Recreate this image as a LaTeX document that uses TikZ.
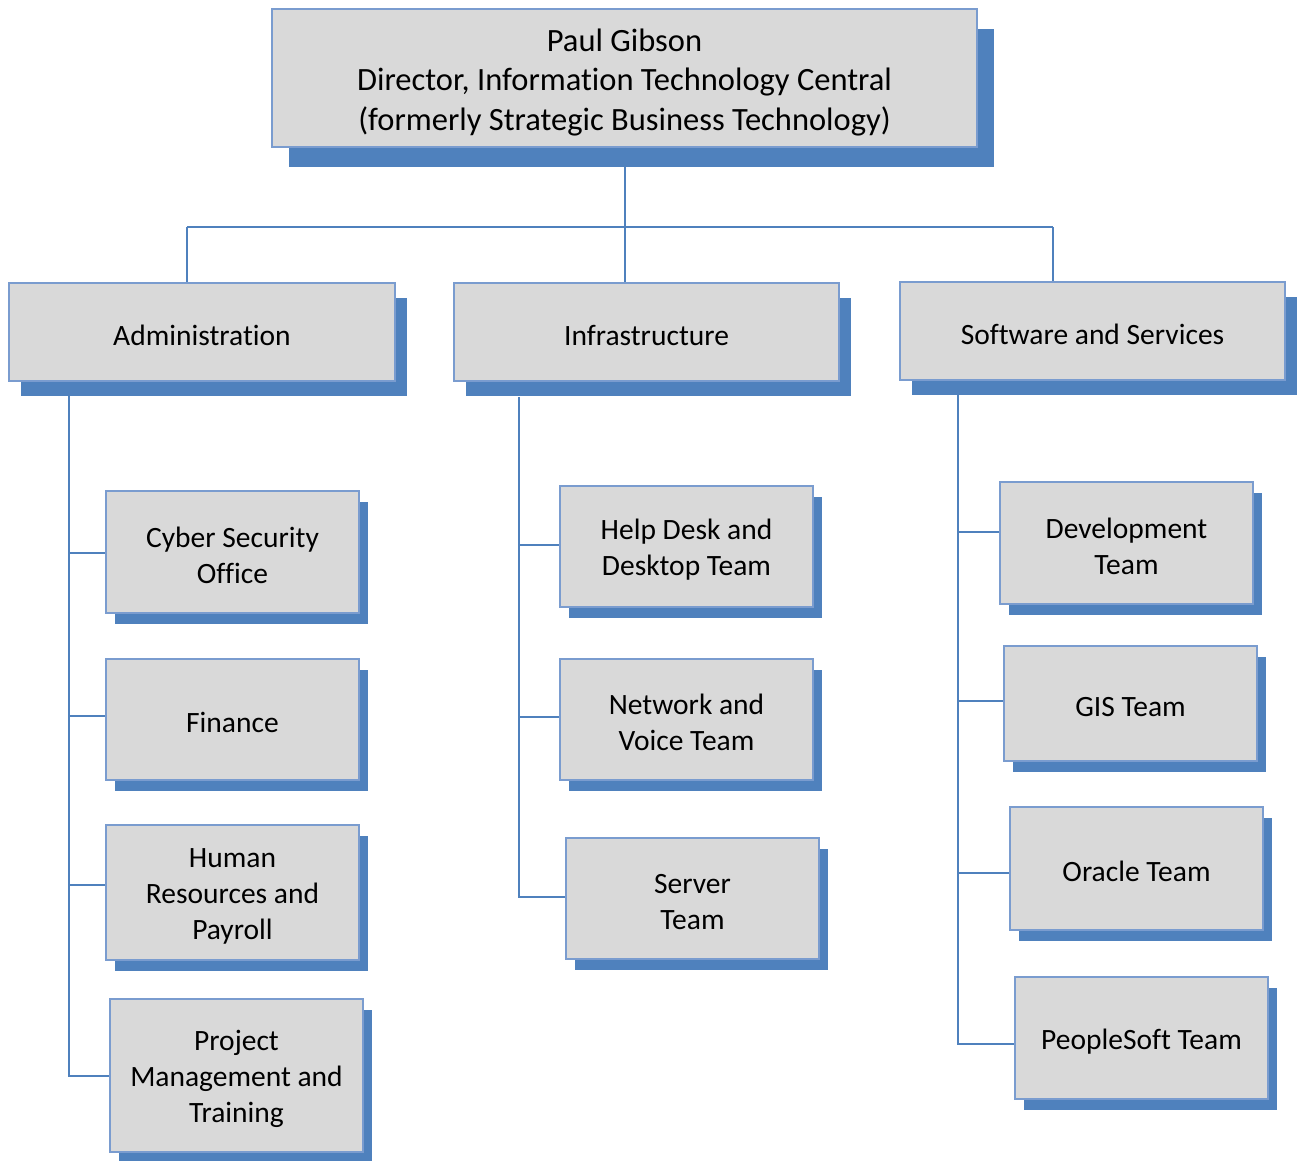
\documentclass[tikz,border=0pt]{standalone}
\usepackage{fontspec}
\setmainfont{Carlito}[Ligatures=NoCommon]
\usetikzlibrary{shadows}
\definecolor{shadowc}{HTML}{4F81BD}
\definecolor{boxfill}{HTML}{D9D9D9}
\definecolor{boxline}{HTML}{7A9CCF}
\definecolor{linec}{HTML}{4F81BD}
\newcommand\mystrut{\rule{0pt}{27pt}}
\newcommand\mytopstrut{\rule{0pt}{31pt}}
\tikzset{
  box/.style={draw=boxline, line width=1.5pt, fill=boxfill, inner sep=0pt, align=center,
    font=\fontsize{29.5}{36}\selectfont},
  topbox/.style={box, font=\fontsize{32.5}{39.5}\selectfont},
  bigshadow/.style={general shadow={fill=shadowc, shadow xshift=17pt, shadow yshift=-20pt}},
  midshadow/.style={general shadow={fill=shadowc, shadow xshift=12pt, shadow yshift=-15pt}},
  smallshadow/.style={general shadow={fill=shadowc, shadow xshift=9pt, shadow yshift=-11pt}},
  conn/.style={draw=linec, line width=2pt},
}
\begin{document}
\begin{tikzpicture}[x=1pt,y=-1pt]
\useasboundingbox (0,0) rectangle (1298,1160);
% top
\node[topbox, bigshadow, minimum width=705pt, minimum height=138pt] (top) at (624.5,78)
  {\mytopstrut Paul Gibson\\Director, Information Technology Central\\(formerly Strategic Business Technology)};
% level 2
\node[box, midshadow, minimum width=386pt, minimum height=98pt] (admin) at (202,332) {\mystrut Administration};
\node[box, midshadow, minimum width=385pt, minimum height=98pt] (infra) at (646.5,332) {\mystrut Infrastructure};
\node[box, midshadow, minimum width=385pt, minimum height=98pt] (soft) at (1092.5,331) {\mystrut Software and Services};
% admin children
\node[box, smallshadow, minimum width=253pt, minimum height=122pt] (cyber) at (232.5,552) {\mystrut Cyber Security\\Office};
\node[box, smallshadow, minimum width=253pt, minimum height=121pt] (fin) at (232.5,719.5) {\mystrut Finance};
\node[box, smallshadow, minimum width=253pt, minimum height=135pt] (hr) at (232.5,892.5) {\mystrut Human\\Resources and\\Payroll};
\node[box, smallshadow, minimum width=253pt, minimum height=153pt] (proj) at (236.5,1075.5) {\mystrut Project\\Management and\\Training};
% infra children
\node[box, smallshadow, minimum width=253pt, minimum height=121pt] (help) at (686.5,546.5) {\mystrut Help Desk and\\Desktop Team};
\node[box, smallshadow, minimum width=253pt, minimum height=121pt] (net) at (686.5,719.5) {\mystrut Network and\\Voice Team};
\node[box, smallshadow, minimum width=253pt, minimum height=121pt] (serv) at (692.5,898.5) {\mystrut Server\\Team};
% software children
\node[box, smallshadow, minimum width=253pt, minimum height=122pt] (dev) at (1126.5,543) {\mystrut Development\\Team};
\node[box, smallshadow, minimum width=253pt, minimum height=115pt] (gis) at (1130.5,703.5) {\mystrut GIS Team};
\node[box, smallshadow, minimum width=253pt, minimum height=123pt] (ora) at (1136.5,868.5) {\mystrut Oracle Team};
\node[box, smallshadow, minimum width=253pt, minimum height=122pt] (ps) at (1141.5,1038) {\mystrut PeopleSoft Team};
% connectors top
\coordinate (ja) at (187,227);
\coordinate (js) at (1053,227);
\path[conn] (top.south) -- (top.south |- ja);
\path[conn] (ja) -- (js);
\path[conn] (ja) -- (ja |- admin.north);
\path[conn] (js) -- (js |- soft.north);
\path[conn] (top.south |- ja) -- (top.south |- infra.north);
% trunks
\coordinate (ta) at (69,396);
\coordinate (ti) at (519,397);
\coordinate (ts) at (958,395);
\path[conn] (ta) |- ([yshift=-1pt]cyber.west);
\path[conn] (ta) |- ([yshift=3.5pt]fin.west);
\path[conn] (ta) |- ([yshift=7.5pt]hr.west);
\path[conn] (ta) |- ([yshift=-0.5pt]proj.west);
\path[conn] (ti) |- ([yshift=1.5pt]help.west);
\path[conn] (ti) |- ([yshift=2.5pt]net.west);
\path[conn] (ti) |- ([yshift=2pt]serv.west);
\path[conn] (ts) |- ([yshift=11pt]dev.west);
\path[conn] (ts) |- ([yshift=2.5pt]gis.west);
\path[conn] (ts) |- ([yshift=-4.5pt]ora.west);
\path[conn] (ts) |- ([yshift=-6pt]ps.west);
\end{tikzpicture}
\end{document}
